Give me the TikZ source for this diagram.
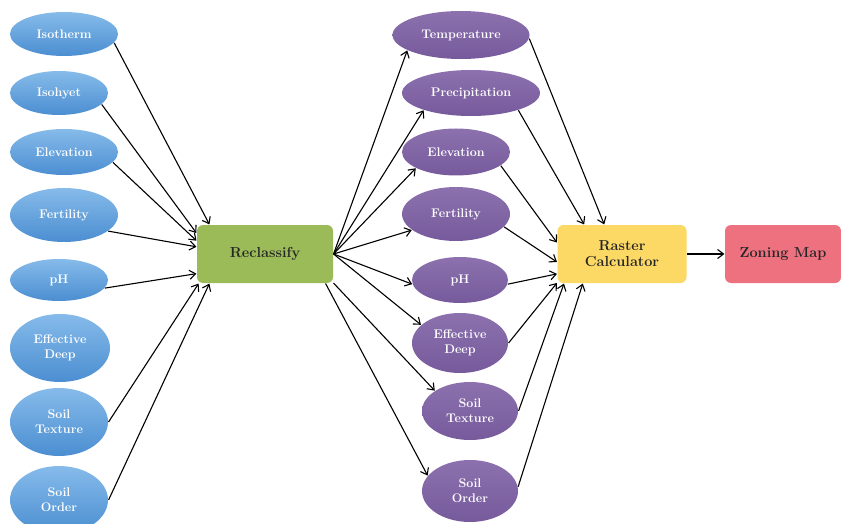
\documentclass[tikz,border=0pt]{standalone}
\usetikzlibrary{arrows.meta,shapes.geometric}
\definecolor{bluetop}{HTML}{86BBEA}
\definecolor{bluebot}{HTML}{4B8ED1}
\definecolor{purptop}{HTML}{8C71AE}
\definecolor{purpbot}{HTML}{765A9C}
\definecolor{boxgreen}{HTML}{9BBB59}
\definecolor{boxyellow}{HTML}{FCD865}
\definecolor{boxpink}{HTML}{EE7180}
\begin{document}
\begin{tikzpicture}[x=1pt, y=-1pt, >={Straight Barb[length=6pt,width=9pt]}, line width=1.1pt,
    inp/.style={ellipse, inner sep=0pt, top color=bluetop, bottom color=bluebot, text=white, align=center, font=\fontsize{12.5}{15}\selectfont\bfseries},
    lyr/.style={ellipse, inner sep=0pt, top color=purptop, bottom color=purpbot, text=white, align=center, font=\fontsize{12.5}{15}\selectfont\bfseries},
    proc/.style={rectangle, rounded corners=6pt, minimum height=58pt, align=center, text=black!85, font=\fontsize{14.5}{16}\selectfont\bfseries}]
    \useasboundingbox (0,0) rectangle (841,524);

    % 输入图层
    \node[inp, minimum width=108pt, minimum height=44pt] (iso) at (64,34) {Isotherm};
    \node[inp, minimum width=98pt, minimum height=44pt] (isoh) at (59,93) {Isohyet};
    \node[inp, minimum width=108pt, minimum height=46pt] (elevL) at (64,152) {Elevation};
    \node[inp, minimum width=108pt, minimum height=54pt] (fertL) at (64,215) {Fertility};
    \node[inp, minimum width=98pt, minimum height=42pt] (phL) at (59,280) {pH};
    \node[inp, minimum width=100pt, minimum height=68pt] (effL) at (60,348) {Effective\\Deep};
    \node[inp, minimum width=98pt, minimum height=68pt] (soiltL) at (59,422) {Soil\\Texture};
    \node[inp, minimum width=98pt, minimum height=68pt] (soiloL) at (59,500) {Soil\\Order};

    % 处理
    \node[proc, fill=boxgreen, minimum width=136pt] (recl) at (265,254) {Reclassify};
    \node[proc, fill=boxyellow, minimum width=129pt] (rast) at (622,254) {Raster\\Calculator};
    \node[proc, fill=boxpink, minimum width=116pt] (zone) at (783,254) {Zoning Map};

    % 重分类图层
    \node[lyr, minimum width=137pt, minimum height=48pt] (temp) at (461,35) {Temperature};
    \node[lyr, minimum width=138pt, minimum height=46pt] (prec) at (471,93) {Precipitation};
    \node[lyr, minimum width=108pt, minimum height=47pt] (elevR) at (456,152) {Elevation};
    \node[lyr, minimum width=108pt, minimum height=54pt] (fertR) at (456,214) {Fertility};
    \node[lyr, minimum width=96pt, minimum height=46pt] (phR) at (460,280) {pH};
    \node[lyr, minimum width=96pt, minimum height=60pt] (effR) at (460,343) {Effective\\Deep};
    \node[lyr, minimum width=96pt, minimum height=58pt] (soiltR) at (470,411) {Soil\\Texture};
    \node[lyr, minimum width=96pt, minimum height=62pt] (soiloR) at (470,491) {Soil\\Order};

    % 输入 -> 重分类
    \draw[->] (iso.-10) -- (recl.152);
    \draw[->] (isoh.-15) -- (recl.163);
    \draw[->] (elevL.-12) -- (recl.169);
    \draw[->] (fertL.-20) -- (recl.174);
    \draw[->] (phL.-10) -- (recl.196);
    \draw[->] (soiltL.east) -- (recl.204);
    \draw[->] (soiloL.east) -- (recl.208);

    % 重分类 -> 图层
    \draw[->] (recl.east) -- (temp.196);
    \draw[->] (recl.east) -- (prec.200);
    \draw[->] (recl.east) -- (elevR.202);
    \draw[->] (recl.east) -- (fertR.200);
    \draw[->] (recl.east) -- (phR.185);
    \draw[->] (recl.east) -- (effR.155);
    \draw[->] (recl.-23) -- (soiltR.150);
    \draw[->] (recl.-26) -- (soiloR.160);

    % 图层 -> 栅格计算
    \draw[->] (temp.-3) -- (rast.121);
    \draw[->] (prec.-20) -- (rast.142);
    \draw[->] (elevR.-17) -- (rast.170);
    \draw[->] (fertR.-15) -- (rast.187);
    \draw[->] (phR.-5) -- (rast.197);
    \draw[->] (effR.east) -- (rast.204);
    \draw[->] (soiltR.east) -- (rast.207);
    \draw[->] (soiloR.5) -- (rast.217);

    \draw[->] (rast) -- (zone);
\end{tikzpicture}
\end{document}
